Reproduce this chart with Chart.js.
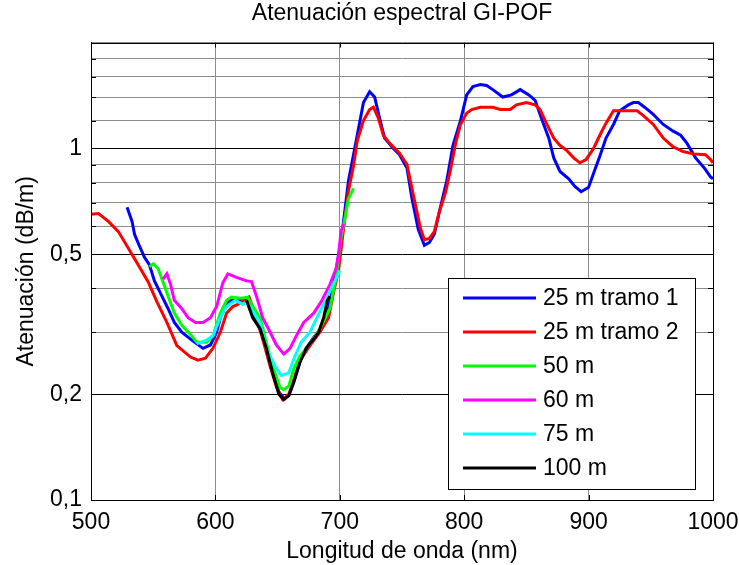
<!DOCTYPE html>
<html>
<head>
<meta charset="utf-8">
<script src="https://cdn.jsdelivr.net/npm/chart.js@4.4.0/dist/chart.umd.min.js"></script>
<style>
  html, body { margin: 0; padding: 0; background: #fff; }
  #wrap { width: 739px; height: 565px; }
</style>
</head>
<body>
<div id="wrap"><canvas id="atten" width="739" height="565"></canvas></div>
<script>
/*===== DATA =====*/

const seriesLabels = ["25 m tramo 1", "25 m tramo 2", "50 m", "60 m", "75 m", "100 m"];
const seriesColors = ["#0000ff", "#ff0000", "#00ff00", "#ff00ff", "#00ffff", "#000000"];

// wavelength (nm) / attenuation (dB/m)
const tramo1Nm = [529, 533, 535, 539, 543, 547, 551, 557, 562, 567, 573, 581, 590, 596, 601, 606, 612, 617, 625,
    630, 636, 641, 646, 651, 655, 659, 663, 668, 673, 679, 684, 689, 693, 697, 700, 703, 707, 711, 714, 719, 724,
    728, 732, 736, 742, 748, 754, 758, 763, 768, 772, 776, 780, 786, 791, 797, 802, 807, 813, 818, 823, 831, 838,
    845, 852, 857, 862, 868, 872, 877, 884, 889, 894, 900, 904, 909, 914, 920, 925, 932, 936, 940, 945, 952, 960,
    968, 974, 979, 986, 993, 998, 1000];
const tramo1Db = [0.68, 0.62, 0.57, 0.527, 0.49, 0.466, 0.42, 0.38, 0.35, 0.32, 0.30, 0.285, 0.27, 0.276, 0.30, 0.35,
    0.37, 0.37, 0.37, 0.335, 0.305, 0.27, 0.232, 0.203, 0.195, 0.198, 0.218, 0.248, 0.27, 0.29, 0.305, 0.33, 0.38,
    0.45, 0.52, 0.62, 0.81, 0.96, 1.09, 1.35, 1.45, 1.40, 1.22, 1.07, 1.01, 0.96, 0.88, 0.72, 0.59, 0.53, 0.54, 0.57,
    0.66, 0.81, 1.02, 1.2, 1.42, 1.5, 1.52, 1.51, 1.47, 1.40, 1.42, 1.47, 1.42, 1.37, 1.22, 1.07, 0.94, 0.86, 0.82,
    0.78, 0.753, 0.775, 0.85, 0.95, 1.07, 1.17, 1.28, 1.33, 1.35, 1.35, 1.31, 1.25, 1.17, 1.12, 1.09, 1.035, 0.94,
    0.88, 0.83, 0.82];

const tramo2Nm = [500, 506, 514, 522, 530, 538, 546, 553, 561, 569, 580, 586, 592, 598, 604, 609, 614, 618, 625, 627,
    633, 638, 644, 649, 654, 659, 663, 668, 676, 684, 691, 695, 699, 703, 707, 711, 714, 719, 724, 727, 731, 735,
    740, 748, 754, 758, 762, 765, 768, 772, 776, 780, 785, 789, 793, 797, 802, 806, 813, 823, 829, 837, 842, 850,
    857, 861, 866, 872, 877, 882, 888, 893, 898, 904, 909, 914, 920, 928, 939, 944, 952, 960, 968, 976, 984, 994,
    998, 1000];
const tramo2Db = [0.65, 0.653, 0.62, 0.58, 0.52, 0.466, 0.417, 0.366, 0.32, 0.275, 0.255, 0.25, 0.253, 0.27, 0.30,
    0.34, 0.355, 0.36, 0.376, 0.378, 0.33, 0.287, 0.24, 0.21, 0.193, 0.2, 0.22, 0.25, 0.275, 0.30, 0.33, 0.39, 0.45,
    0.59, 0.76, 0.89, 1.05, 1.2, 1.29, 1.31, 1.22, 1.09, 1.035, 0.97, 0.90, 0.77, 0.66, 0.59, 0.55, 0.555, 0.58, 0.66,
    0.75, 0.87, 1.03, 1.17, 1.26, 1.29, 1.31, 1.31, 1.29, 1.29, 1.33, 1.35, 1.33, 1.29, 1.18, 1.07, 1.02, 0.99, 0.94,
    0.91, 0.93, 1.0, 1.09, 1.18, 1.28, 1.28, 1.28, 1.24, 1.17, 1.07, 1.01, 0.98, 0.965, 0.96, 0.93, 0.91];

const m50Nm = [547, 550, 554, 557, 562, 567, 573, 581, 585, 593, 598, 604, 609, 613, 620, 626, 630, 636, 641, 646,
    652, 655, 659, 663, 668, 676, 684, 692, 697, 701, 704, 707, 711];
const m50Db = [0.46, 0.47, 0.455, 0.425, 0.38, 0.34, 0.314, 0.293, 0.281, 0.281, 0.293, 0.34, 0.37, 0.378, 0.375,
    0.377, 0.355, 0.33, 0.28, 0.24, 0.209, 0.206, 0.211, 0.236, 0.257, 0.278, 0.307, 0.35, 0.43, 0.555, 0.63, 0.72,
    0.77];

const m60Nm = [558, 561, 564, 567, 573, 578, 584, 590, 596, 601, 606, 610, 617, 625, 629, 633, 638, 644, 649, 655,
    660, 665, 671, 679, 685, 692, 697, 699, 701, 703];
const m60Db = [0.425, 0.44, 0.41, 0.37, 0.35, 0.33, 0.32, 0.32, 0.33, 0.355, 0.415, 0.44, 0.43, 0.42, 0.418, 0.38,
    0.33, 0.30, 0.276, 0.26, 0.27, 0.293, 0.32, 0.34, 0.366, 0.41, 0.455, 0.50, 0.58, 0.61];

const m75Nm = [585, 593, 598, 604, 609, 616, 622, 625, 630, 636, 641, 648, 653, 659, 664, 669, 676, 681, 688, 693,
    699, 700];
const m75Db = [0.278, 0.285, 0.293, 0.33, 0.355, 0.37, 0.36, 0.366, 0.345, 0.318, 0.27, 0.24, 0.226, 0.23, 0.257,
    0.281, 0.30, 0.327, 0.366, 0.40, 0.44, 0.45];

const m100Nm = [625, 630, 636, 641, 646, 651, 655, 659, 663, 668, 673, 679, 683, 687, 690, 692];
const m100Db = [0.37, 0.33, 0.307, 0.27, 0.23, 0.20, 0.193, 0.198, 0.216, 0.2465, 0.27, 0.287, 0.30, 0.33, 0.37, 0.38];

const xTicks = [500, 600, 700, 800, 900, 1000];
const yTicks = [0.1, 0.2, 0.3, 0.4, 0.5, 0.6, 0.7, 0.8, 0.9, 1, 1.2, 1.4, 1.6, 1.8, 2];
const yLabels = { 0.1: "0,1", 0.2: "0,2", 0.5: "0,5", 1: "1" };
const majorY = [0.2, 0.5, 1];

/*===== CHART =====*/

const FONT = "'Liberation Sans', Arial, sans-serif";
const allNm = [tramo1Nm, tramo2Nm, m50Nm, m60Nm, m75Nm, m100Nm];
const allDb = [tramo1Db, tramo2Db, m50Db, m60Db, m75Db, m100Db];

let datasets = seriesLabels.map((label, i) => ({
    label: label,
    data: allNm[i].map((nm, k) => ({ x: nm, y: allDb[i][k] })),
    borderColor: seriesColors[i],
    backgroundColor: seriesColors[i],
    borderWidth: 3,
    pointRadius: 0,
    tension: 0,
    order: seriesLabels.length - i
}));

// box frame, inward ticks and legend inside the plot
let matlabBox = {
    id: "matlabBox",
    afterDatasetsDraw(chart) {
        let { ctx, chartArea: a, scales: { x, y } } = chart;
        ctx.save();
        ctx.strokeStyle = "#000";
        ctx.lineWidth = 1;
        ctx.beginPath();
        yTicks.forEach(v => {
            let py = Math.round(y.getPixelForValue(v)) + 0.5;
            ctx.moveTo(a.left, py); ctx.lineTo(a.left + 5, py);
            ctx.moveTo(a.right, py); ctx.lineTo(a.right - 5, py);
        });
        xTicks.forEach(v => {
            let px = Math.round(x.getPixelForValue(v)) + 0.5;
            ctx.moveTo(px, a.top); ctx.lineTo(px, a.top + 5);
            ctx.moveTo(px, a.bottom); ctx.lineTo(px, a.bottom - 5);
        });
        ctx.stroke();
        ctx.strokeRect(Math.round(a.left) + 0.5, Math.round(a.top) + 0.5,
            Math.round(a.right - a.left), Math.round(a.bottom - a.top));

        // legend
        let lx = Math.round(a.right) - 265, ly = Math.round(a.bottom) - 222;
        let lw = 247, lh = 211;
        ctx.fillStyle = "#fff";
        ctx.fillRect(lx, ly, lw, lh);
        ctx.strokeRect(lx + 0.5, ly + 0.5, lw, lh);
        ctx.font = "23px " + FONT;
        ctx.textBaseline = "middle";
        chart.data.datasets.forEach((ds, i) => {
            let cy = ly + 20 + i * 34;
            ctx.strokeStyle = ds.borderColor;
            ctx.lineWidth = 3;
            ctx.beginPath();
            ctx.moveTo(lx + 15, cy); ctx.lineTo(lx + 88, cy);
            ctx.stroke();
            ctx.fillStyle = "#000";
            ctx.fillText(ds.label, lx + 95, cy + 1);
        });
        ctx.restore();
    }
};

new Chart("atten", {
    type: "line",
    data: { datasets: datasets },
    plugins: [matlabBox],
    options: {
        responsive: false,
        animation: false,
        layout: { padding: { left: 0, right: 26, top: 0, bottom: 0 } },
        plugins: {
            legend: { display: false },
            tooltip: { enabled: false },
            title: {
                display: true,
                fullSize: false,
                text: "Atenuación espectral GI-POF",
                color: "#000",
                font: { family: FONT, size: 23, weight: "normal" },
                padding: { top: 0, bottom: 15 }
            }
        },
        scales: {
            x: {
                type: "linear",
                min: 500,
                max: 1000,
                afterFit: scale => {
                    scale.height = 65;
                    scale.paddingLeft = 0;
                    scale.paddingRight = 0;
                },
                afterBuildTicks: scale => { scale.ticks = xTicks.map(v => ({ value: v })); },
                ticks: {
                    color: "#000",
                    padding: 9,
                    maxRotation: 0,
                    autoSkip: false,
                    font: { family: FONT, size: 23 },
                    callback: v => String(v)
                },
                grid: {
                    drawTicks: false,
                    color: c => (c.tick && (c.tick.value === 500 || c.tick.value === 1000)) ? "#000" : "#8c8c8c"
                },
                border: { display: true, color: "#000" },
                title: {
                    display: true,
                    text: "Longitud de onda (nm)",
                    color: "#000",
                    font: { family: FONT, size: 23 },
                    padding: { top: 2, bottom: 0 }
                }
            },
            y: {
                type: "logarithmic",
                min: 0.1,
                max: 2,
                afterFit: scale => {
                    scale.width = 91;
                    scale.paddingTop = 0;
                    scale.paddingBottom = 0;
                },
                afterBuildTicks: scale => { scale.ticks = yTicks.map(v => ({ value: v })); },
                ticks: {
                    color: "#000",
                    padding: 9,
                    autoSkip: false,
                    font: { family: FONT, size: 23 },
                    callback: v => yLabels[v] || ""
                },
                grid: {
                    drawTicks: false,
                    color: c => (c.tick && majorY.includes(c.tick.value)) ? "#000" : "#8c8c8c"
                },
                border: { display: true, color: "#000" },
                title: {
                    display: true,
                    text: "Atenuación (dB/m)",
                    color: "#000",
                    font: { family: FONT, size: 23 },
                    padding: { top: 13, bottom: 0 }
                }
            }
        }
    }
});
</script>
</body>
</html>
